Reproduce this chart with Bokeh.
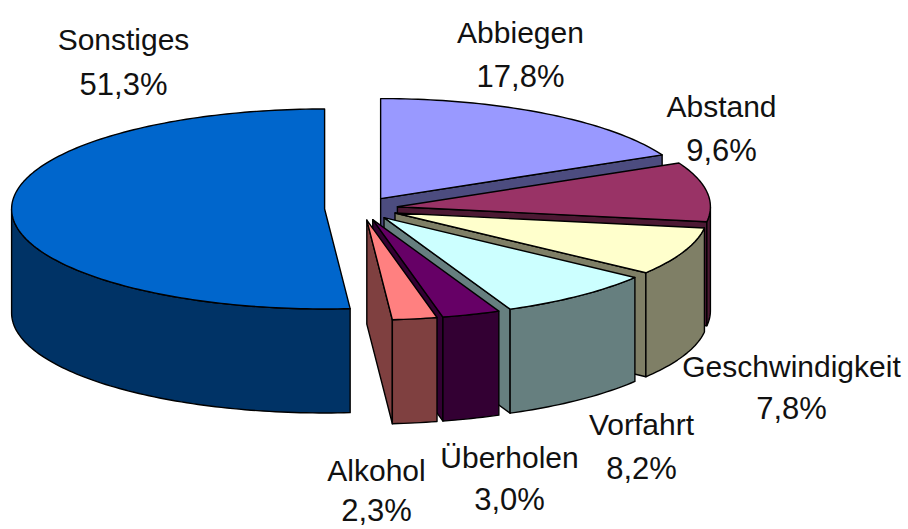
import math
from bokeh.plotting import figure
from bokeh.embed import file_html
from bokeh.resources import INLINE
from bokeh.models import Range1d
from bokeh.core.properties import value

names = ["Abbiegen", "Abstand", "Geschwindigkeit", "Vorfahrt", "Überholen", "Alkohol", "Sonstiges"]
shares = [17.8, 9.6, 7.8, 8.2, 3.0, 2.3, 51.3]
pct_labels = ["17,8%", "9,6%", "7,8%", "8,2%", "3,0%", "2,3%", "51,3%"]
top_colors = ["#9999FF", "#993366", "#FFFFCC", "#CCFFFF", "#660066", "#FF8080", "#0066CC"]
side_colors = ["#4C4C7F", "#4C1933", "#7F7F66", "#667F7F", "#330033", "#7F4040", "#003366"]
label_x = [520, 721, 791, 641, 509, 376, 123]
name_y = [32, 106, 366, 424, 457, 470, 39]
pct_y = [76, 150, 408, 468, 499, 510, 84]

# pie geometry in page pixels
CX, CY = 360.7, 208.0
RX, RY = 313.0, 100.0
DEPTH = 104.0
EXPLODE = 0.117


def rim(cx, cy, a0, a1, dy=0.0):
    n = max(2, int(abs(a1 - a0) / 0.02) + 2)
    pts = [a0 + (a1 - a0) * i / (n - 1) for i in range(n)]
    return ([cx + RX * math.sin(t) for t in pts],
            [cy + dy - RY * math.cos(t) for t in pts])


p = figure(width=908, height=529, output_backend="svg", toolbar_location=None,
           x_range=Range1d(0, 908), y_range=Range1d(529, 0),
           min_border=0, outline_line_color=None, background_fill_color="white")
p.axis.visible = False
p.grid.visible = False


def patch(xs, ys, color):
    p.patch(xs, ys, fill_color=color, line_color="#000000", line_width=1.4, line_join="round")


cum = 0.0
for v, top, side in zip(shares, top_colors, side_colors):
    a0 = cum / 100 * 2 * math.pi
    cum += v
    a1 = cum / 100 * 2 * math.pi
    mid = (a0 + a1) / 2
    cx = CX + EXPLODE * RX * math.sin(mid)
    cy = CY - EXPLODE * RY * math.cos(mid)
    # radial cut at the clockwise end
    if math.sin(a1) > 1e-6:
        ex = cx + RX * math.sin(a1)
        ey = cy - RY * math.cos(a1)
        patch([cx, ex, ex, cx], [cy, ey, ey + DEPTH, cy + DEPTH], side)
    # outer wall, front half only
    w0, w1 = max(a0, math.pi / 2), min(a1, 3 * math.pi / 2)
    if w1 > w0:
        xt, yt = rim(cx, cy, w0, w1)
        xb, yb = rim(cx, cy, w1, w0, DEPTH)
        patch(xt + xb, yt + yb, side)
    # top face
    xs, ys = rim(cx, cy, a0, a1)
    patch([cx] + xs, [cy] + ys, top)

for n, pct, x, y0, y1 in zip(names, pct_labels, label_x, name_y, pct_y):
    p.text([x], [y0], text=[n], text_font=value("Liberation Sans"), text_font_size="30px",
           text_color="#111111", text_align="center", text_baseline="middle")
    p.text([x], [y1], text=[pct], text_font=value("Liberation Sans"), text_font_size="31px",
           text_color="#111111", text_align="center", text_baseline="middle")

open("out.html", "w").write(file_html(p, INLINE))
